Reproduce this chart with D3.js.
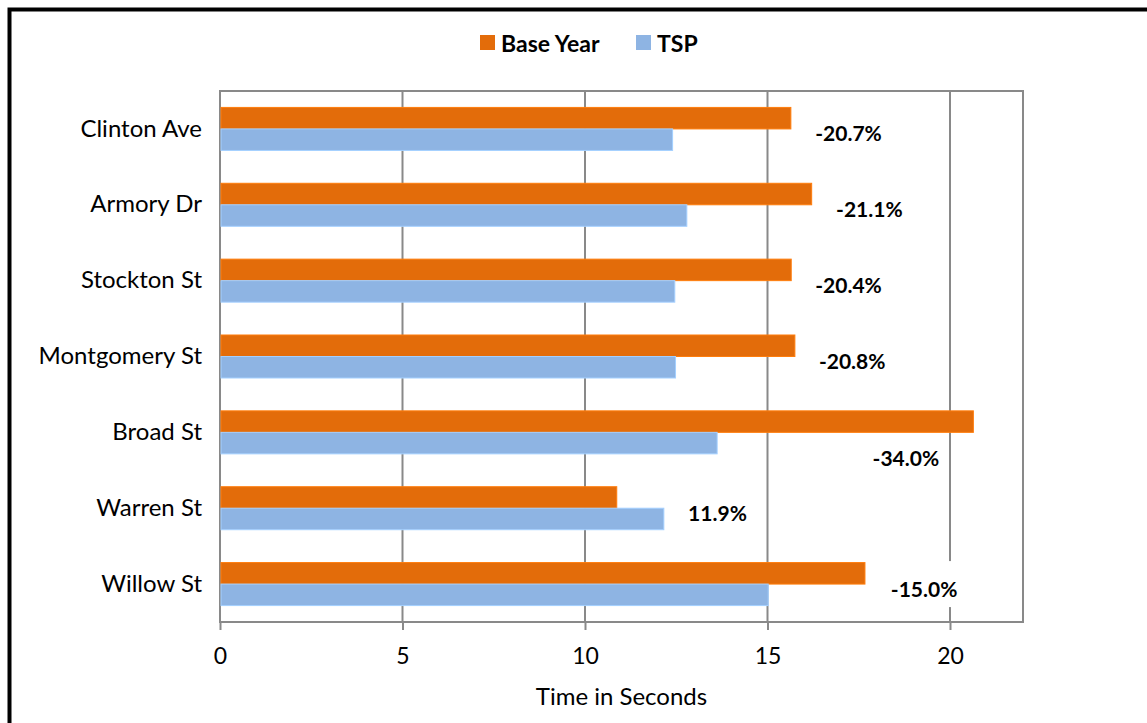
<!DOCTYPE html>
<html>
<head>
<meta charset="utf-8">
<script src="https://cdn.jsdelivr.net/npm/d3@7"></script>
<style>
  body { margin: 0; background: #fff; }
  text { font-family: Lato, "Open Sans", sans-serif; fill: #000; }
</style>
</head>
<body>
<div id="chart"></div>
<script>
// street names, top to bottom
var streets = ["Clinton Ave", "Armory Dr", "Stockton St", "Montgomery St", "Broad St", "Warren St", "Willow St"];
var series = ["Base Year", "TSP"];

// travel time in seconds
var baseYear = [15.64, 16.21, 15.65, 15.75, 20.64, 10.87, 17.67];
var tsp = [12.40, 12.79, 12.46, 12.48, 13.62, 12.16, 15.02];

// change labels, and where they were placed along the axis (seconds)
var changeLabels = ["-20.7%", "-21.1%", "-20.4%", "-20.8%", "-34.0%", "11.9%", "-15.0%"];
var labelAt = [17.22, 17.79, 17.22, 17.32, 18.79, 13.63, 19.29];
var labelDropped = ["Broad St"];

var xTicks = [0, 5, 10, 15, 20];

var svgWidth = 1147;
var svgHeight = 723;

var margin = { top: 91, right: 124, bottom: 101, left: 220 };
var width = svgWidth - margin.left - margin.right;
var height = svgHeight - margin.top - margin.bottom;

var colors = { "Base Year": "#e36c0a", "TSP": "#8eb4e3" };
var gridColor = "#898989";

var data = streets.map(function(s, i) {
  return { street: s, "Base Year": baseYear[i], "TSP": tsp[i], label: changeLabels[i], at: labelAt[i] };
});

var svg = d3.select("#chart")
  .append("svg")
  .attr("width", svgWidth)
  .attr("height", svgHeight);

// outer frame
svg.append("rect")
  .attr("x", 9.5)
  .attr("y", 9.5)
  .attr("width", 1200)
  .attr("height", 800)
  .attr("fill", "none")
  .attr("stroke", "#000")
  .attr("stroke-width", 4);

var chartGroup = svg.append("g")
  .attr("transform", `translate(${margin.left}, ${margin.top})`);

var x = d3.scaleLinear().domain([0, 22]).range([0, width]);

var y0 = d3.scaleBand()
  .domain(streets)
  .range([0, height])
  .paddingInner(0.433)
  .paddingOuter(0.2165);

var y1 = d3.scaleBand()
  .domain(series)
  .range([0, y0.bandwidth()]);

// gridlines
chartGroup.append("g")
  .selectAll("line")
  .data(xTicks.slice(1))
  .enter()
  .append("line")
  .attr("x1", d => x(d))
  .attr("x2", d => x(d))
  .attr("y1", 0)
  .attr("y2", height)
  .attr("stroke", gridColor)
  .attr("stroke-width", 2);

// plot border
chartGroup.append("rect")
  .attr("x", 0)
  .attr("y", 0)
  .attr("width", width)
  .attr("height", height)
  .attr("fill", "none")
  .attr("stroke", gridColor)
  .attr("stroke-width", 2);

// change labels with white boxes (under the bars, over the grid)
var labels = chartGroup.selectAll(".change")
  .data(data)
  .enter()
  .append("g")
  .attr("class", "change")
  .attr("transform", function(d) {
    var cy = y0(d.street) + y0.bandwidth() / 2;
    if (labelDropped.indexOf(d.street) >= 0) cy += y1.bandwidth();
    return `translate(${x(d.at)}, ${cy})`;
  });

labels.append("rect")
  .attr("fill", "#fff");

labels.append("text")
  .attr("y", 4)
  .attr("text-anchor", "middle")
  .attr("dominant-baseline", "central")
  .attr("font-size", "21px")
  .attr("font-weight", "bold")
  .text(d => d.label);

labels.each(function() {
  var g = d3.select(this);
  var bb = g.select("text").node().getBBox();
  g.select("rect")
    .attr("x", bb.x - 6)
    .attr("y", -23)
    .attr("width", bb.width + 12)
    .attr("height", 46);
});

// bars
var groups = chartGroup.selectAll(".street")
  .data(data)
  .enter()
  .append("g")
  .attr("class", "street")
  .attr("transform", d => `translate(0, ${y0(d.street)})`);

groups.selectAll("rect")
  .data(d => series.map(k => ({ key: k, value: d[k] })))
  .enter()
  .append("rect")
  .attr("x", x(0) + 1)
  .attr("y", d => y1(d.key))
  .attr("width", d => x(d.value) - x(0) - 1)
  .attr("height", y1.bandwidth())
  .attr("fill", d => colors[d.key])
  .attr("stroke", d => d3.color(colors[d.key]).brighter(0.4))
  .attr("stroke-width", 1);

// x axis
var bottomAxis = d3.axisBottom(x)
  .tickValues(xTicks)
  .tickSize(8)
  .tickPadding(18);

var xAxis = chartGroup.append("g")
  .attr("transform", `translate(0, ${height})`)
  .call(bottomAxis);

xAxis.select(".domain")
  .attr("stroke", gridColor)
  .attr("stroke-width", 2)
  .attr("d", `M0,0H${width}`);
xAxis.selectAll(".tick line")
  .attr("stroke", gridColor)
  .attr("stroke-width", 2);
xAxis.selectAll(".tick text")
  .attr("font-size", "23px")
  .attr("font-family", "Lato, sans-serif")
  .attr("fill", "#000");

// y axis labels
var leftAxis = d3.axisLeft(y0)
  .tickSize(0)
  .tickPadding(18);

var yAxis = chartGroup.append("g")
  .call(leftAxis);

yAxis.select(".domain").remove();
yAxis.selectAll(".tick text")
  .attr("font-size", "24px")
  .attr("font-family", "Lato, sans-serif")
  .attr("fill", "#000");

// axis title
chartGroup.append("text")
  .attr("x", width / 2)
  .attr("y", height + 83)
  .attr("text-anchor", "middle")
  .attr("font-size", "24px")
  .text("Time in Seconds");

// legend
var legend = svg.append("g")
  .attr("transform", "translate(480, 35)");

var legendX = [0, 156];
series.forEach(function(s, i) {
  var item = legend.append("g")
    .attr("transform", `translate(${legendX[i]}, 0)`);
  item.append("rect")
    .attr("width", 15)
    .attr("height", 15)
    .attr("fill", colors[s]);
  item.append("text")
    .attr("x", 21)
    .attr("y", 8)
    .attr("dominant-baseline", "central")
    .attr("font-size", "23px")
    .attr("font-weight", "bold")
    .text(s);
});
</script>
</body>
</html>
